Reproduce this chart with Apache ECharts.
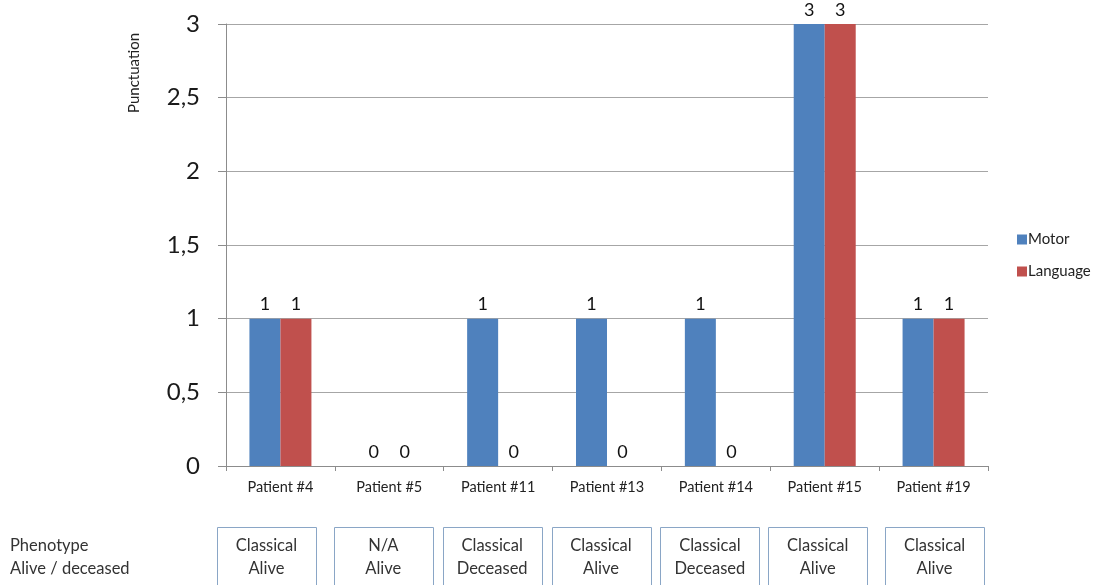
<!DOCTYPE html>
<html>
<head>
<meta charset="utf-8">
<style>
  html, body { margin: 0; padding: 0; background: #fff; }
  #chart { width: 1096px; height: 585px; }
</style>
<script src="https://cdn.jsdelivr.net/npm/echarts@6/dist/echarts.min.js"></script>
</head>
<body>
<div id="chart"></div>
<script>
// Patients and their scores
const patients = ['Patient #4', 'Patient #5', 'Patient #11', 'Patient #13', 'Patient #14', 'Patient #15', 'Patient #19'];
const motor    = [1, 0, 1, 1, 1, 3, 1];
const language = [1, 0, 0, 0, 0, 3, 1];
const phenotype = ['Classical', 'N/A', 'Classical', 'Classical', 'Classical', 'Classical', 'Classical'];
const status    = ['Alive', 'Alive', 'Deceased', 'Alive', 'Deceased', 'Alive', 'Alive'];

const FONT = 'Lato, "Open Sans", sans-serif';
const chart = echarts.init(document.getElementById('chart'));

const valueLabel = {
  show: true,
  position: 'top',
  distance: 5,
  fontFamily: FONT,
  fontSize: 18,
  color: '#111'
};

chart.setOption({
  animation: false,
  backgroundColor: '#fff',
  grid: { left: 226, right: 108, top: 24, bottom: 119 },
  legend: {
    orient: 'vertical',
    left: 1012,
    top: 227,
    itemWidth: 10,
    itemHeight: 10,
    itemGap: 17,
    icon: 'rect',
    textStyle: { fontFamily: FONT, fontSize: 15, color: '#222', padding: [0, 0, 0, -4] },
    data: ['Motor', 'Language']
  },
  xAxis: {
    type: 'category',
    data: patients,
    axisLine: { lineStyle: { color: '#8c8c8c', width: 1 } },
    axisTick: { show: true, length: 5, alignWithLabel: false, lineStyle: { color: '#8c8c8c' } },
    axisLabel: { fontFamily: FONT, fontSize: 14.5, color: '#222', margin: 14 }
  },
  yAxis: {
    type: 'value',
    min: 0,
    max: 3,
    interval: 0.5,
    axisLine: { show: true, lineStyle: { color: '#8c8c8c' } },
    axisTick: { show: true, length: 8, lineStyle: { color: '#8c8c8c' } },
    splitLine: { lineStyle: { color: '#a6a6a6' } },
    axisLabel: {
      fontFamily: FONT,
      fontSize: 24,
      color: '#1a1a1a',
      margin: 26,
      formatter: v => String(v).replace('.', ',')
    }
  },
  series: [
    {
      name: 'Motor',
      type: 'bar',
      data: motor,
      barWidth: 31,
      barGap: '0%',
      itemStyle: { color: '#4f81bd' },
      label: valueLabel
    },
    {
      name: 'Language',
      type: 'bar',
      data: language,
      barWidth: 31,
      barGap: '0%',
      itemStyle: { color: '#c0504d' },
      label: valueLabel
    }
  ]
});

// Phenotype / status boxes under each patient, placed from the category axis
// with a small per-box nudge to the left/right
const boxNudge = [-14, -6, -6, -6, -6, -7, 1];
const boxes = [];
patients.forEach((p, i) => {
  const cx = chart.convertToPixel({ xAxisIndex: 0 }, p) + boxNudge[i];
  boxes.push({
    type: 'rect',
    shape: { x: Math.round(cx - 49.5) + 0.5, y: 527.5, width: 99, height: 70 },
    style: { fill: '#fff', stroke: '#8aa6c6', lineWidth: 1 }
  });
  boxes.push({
    type: 'text',
    x: cx,
    y: 534,
    style: {
      text: phenotype[i] + '\n' + status[i],
      fontFamily: FONT,
      fontSize: 16.5,
      lineHeight: 23,
      fill: '#333',
      align: 'center',
      verticalAlign: 'top'
    }
  });
});

chart.setOption({
  graphic: [
    {
      type: 'text',
      x: 134,
      y: 73,
      rotation: Math.PI / 2,
      style: {
        text: 'Punctuation',
        fontFamily: FONT,
        fontSize: 15,
        fill: '#222',
        align: 'center',
        verticalAlign: 'middle'
      }
    },
    {
      type: 'text',
      x: 10,
      y: 534,
      style: {
        text: 'Phenotype\nAlive / deceased',
        fontFamily: FONT,
        fontSize: 16.5,
        lineHeight: 23,
        fill: '#333',
        align: 'left',
        verticalAlign: 'top'
      }
    }
  ].concat(boxes)
});
</script>
</body>
</html>
